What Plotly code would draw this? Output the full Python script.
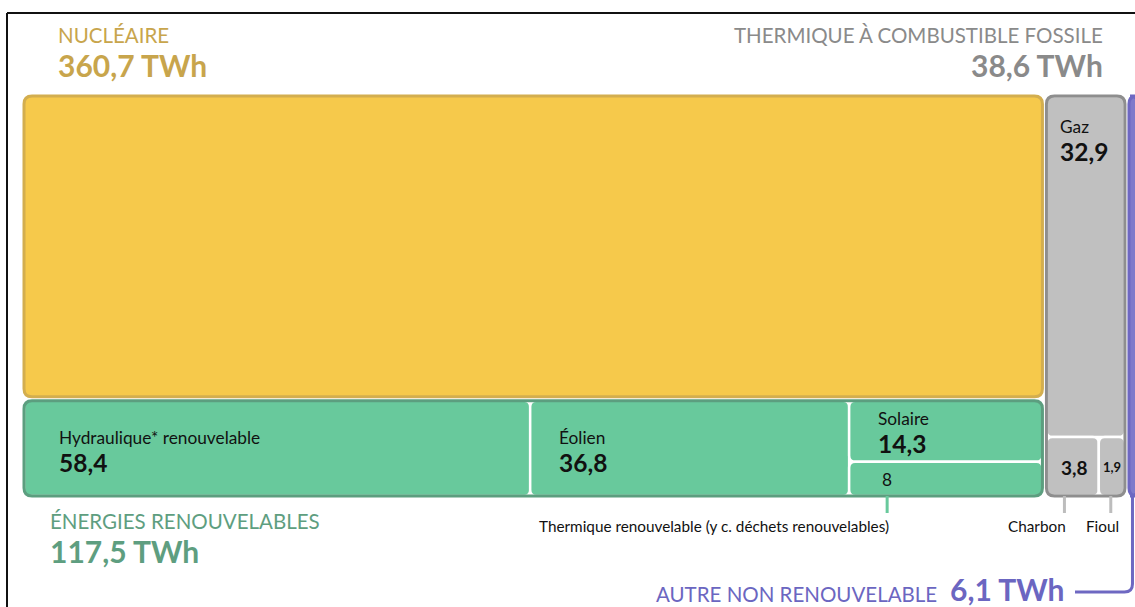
import plotly.graph_objects as go

# ---------------- data ----------------
group_names = ["NUCLÉAIRE", "ÉNERGIES RENOUVELABLES", "THERMIQUE À COMBUSTIBLE FOSSILE", "AUTRE NON RENOUVELABLE"]
group_totals = [360.7, 117.5, 38.6, 6.1]
renew_labels = ["Hydraulique* renouvelable", "Éolien", "Solaire", "Thermique renouvelable (y c. déchets renouvelables)"]
renew_values = [58.4, 36.8, 14.3, 8]
fossil_labels = ["Gaz", "Charbon", "Fioul"]
fossil_values = [32.9, 3.8, 1.9]
unit = "TWh"

# ---------------- style ----------------
FONT = "Lato"
fills = ["#F6C94B", "#68C99C", "#C0C0C0", "#7F7ACB"]
borders = ["#D3AE4F", "#5C9E7F", "#8E8E8E", "#6E68C2"]
label_cols = ["#C8A54C", "#5E9E80", "#8A8A8A", "#6B66C1"]

X0, Y0, W, H = 22, 94, 1118, 404   # treemap box in pixel-like axis units
INSET = 2.0
R_GROUP, R_LEAF = 8, 6

S_HEAD, S_HEADV = 20.5, 30
S_LEAF, S_LEAFV = 17.3, 24.5
S_SMALL = 15.3


def fmt(v):
    if float(v).is_integer():
        return str(int(v))
    return f"{v:.1f}".replace(".", ",")


def rrect(x0, y0, x1, y1, r):
    return (f"M {x0+r},{y0} L {x1-r},{y0} Q {x1},{y0} {x1},{y0+r} L {x1},{y1-r} "
            f"Q {x1},{y1} {x1-r},{y1} L {x0+r},{y1} Q {x0},{y1} {x0},{y1-r} "
            f"L {x0},{y0+r} Q {x0},{y0} {x0+r},{y0} Z")


# ---------------- treemap geometry from values ----------------
k = W * H / sum(group_totals)            # area units per TWh
v_nuc, v_ren, v_fos, v_oth = group_totals
w1 = (v_nuc + v_ren) * k / H
h_nuc = v_nuc * k / w1
w2 = v_fos * k / H
w3 = v_oth * k / H

g_rects = [
    (X0, Y0, X0 + w1, Y0 + h_nuc),
    (X0, Y0 + h_nuc, X0 + w1, Y0 + H),
    (X0 + w1, Y0, X0 + w1 + w2, Y0 + H),
    (X0 + w1 + w2, Y0, X0 + w1 + w2 + w3, Y0 + H),
]
g_in = [(a + INSET, b + INSET, c - INSET, d - INSET) for a, b, c, d in g_rects]

# renewables leaves
rx0, ry0, rx1, ry1 = g_in[1]
rk = (rx1 - rx0) * (ry1 - ry0) / sum(renew_values)
rh = ry1 - ry0
leaf_ren = []
x = rx0
for v in renew_values[:2]:
    w = v * rk / rh
    leaf_ren.append((x, ry0, x + w, ry1))
    x += w
col_w = rx1 - x
hs = renew_values[2] * rk / col_w
leaf_ren.append((x, ry0, rx1, ry0 + hs))
leaf_ren.append((x, ry0 + hs, rx1, ry1))

# fossil leaves
fx0, fy0, fx1, fy1 = g_in[2]
fk = (fx1 - fx0) * (fy1 - fy0) / sum(fossil_values)
fw = fx1 - fx0
hg = fossil_values[0] * fk / fw
leaf_fos = [(fx0, fy0, fx1, fy0 + hg)]
hb = fy1 - (fy0 + hg)
x = fx0
for v in fossil_values[1:]:
    w = v * fk / hb
    leaf_fos.append((x, fy0 + hg, x + w, fy1))
    x += w

shapes = []
annots = []

# frame lines (decoration)
shapes.append(dict(type="line", xref="x", yref="y", x0=7, x1=1135, y0=13, y1=13,
                   line=dict(color="#111111", width=2)))
shapes.append(dict(type="line", xref="x", yref="y", x0=7, x1=7, y0=13, y1=607,
                   line=dict(color="#111111", width=2)))

# nuclear and other: single blocks
for gi in (0, 3):
    a, b, c, d = g_in[gi]
    shapes.append(dict(type="path", path=rrect(a, b, c, d, R_GROUP), fillcolor=fills[gi],
                       line=dict(color=borders[gi], width=3), xref="x", yref="y"))

# leaves
for rect in leaf_ren:
    shapes.append(dict(type="path", path=rrect(*rect, R_LEAF), fillcolor=fills[1],
                       line=dict(color="white", width=2.5), xref="x", yref="y"))
for rect in leaf_fos:
    shapes.append(dict(type="path", path=rrect(*rect, R_LEAF), fillcolor=fills[2],
                       line=dict(color="white", width=2.5), xref="x", yref="y"))
# group outlines
for gi in (1, 2):
    a, b, c, d = g_in[gi]
    shapes.append(dict(type="path", path=rrect(a, b, c, d, R_GROUP), fillcolor="rgba(0,0,0,0)",
                       line=dict(color=borders[gi], width=3), xref="x", yref="y"))


def add_text(x, y, text, size, color, bold=False, xanchor="left"):
    if bold:
        text = f"<b>{text}</b>"
    annots.append(dict(x=x, y=y, xref="x", yref="y", text=text, showarrow=False,
                       xanchor=xanchor, yanchor="middle", borderpad=0,
                       font=dict(family=FONT, size=size, color=color)))


def add_pair(x, y_label, y_value, label, value, size, vsize, color, xanchor="left"):
    add_text(x, y_label, label, size, color, xanchor=xanchor)
    add_text(x, y_value, value, vsize, color, bold=True, xanchor=xanchor)


# group headings
add_pair(g_rects[0][0] + 35, 35, 65, group_names[0], f"{fmt(group_totals[0])} {unit}", S_HEAD, S_HEADV, label_cols[0])
add_pair(1104, 35, 65, group_names[2], f"{fmt(group_totals[2])} {unit}", S_HEAD, S_HEADV, label_cols[2], xanchor="right")
add_pair(g_rects[1][0] + 27, 521, 551, group_names[1], f"{fmt(group_totals[1])} {unit}", S_HEAD, S_HEADV, label_cols[1])
add_text(938, 594, group_names[3], S_HEAD, label_cols[3], xanchor="right")
add_text(949, 589, f"{fmt(group_totals[3])} {unit}", S_HEADV, label_cols[3], bold=True)

# renewable leaf labels (offsets are style)
ren_offsets = [(34, 37), (28, 37), (28, 18)]
for i in range(3):
    lx0, ly0 = leaf_ren[i][0], leaf_ren[i][1]
    dx, dy = ren_offsets[i]
    add_pair(lx0 + dx, ly0 + dy, ly0 + dy + 25, renew_labels[i], fmt(renew_values[i]), S_LEAF, S_LEAFV, "#111111")
# thermique renouvelable
tl = leaf_ren[3]
tx = tl[0] + 38
add_text(tx, (tl[1] + tl[3]) / 2 + 1, fmt(renew_values[3]), S_LEAF, "#111111", xanchor="center")
shapes.append(dict(type="line", xref="x", yref="y", x0=tx, x1=tx, y0=tl[3], y1=tl[3] + 17,
                   line=dict(color=fills[1], width=3)))
add_text(714, 526, renew_labels[3], S_SMALL, "#111111", xanchor="center")

# fossil labels
gz = leaf_fos[0]
add_pair(gz[0] + 13, gz[1] + 30, gz[1] + 55, fossil_labels[0], fmt(fossil_values[0]), S_LEAF, S_LEAFV, "#111111")
ch, fi = leaf_fos[1], leaf_fos[2]
add_text((ch[0] + ch[2]) / 2 + 2, (ch[1] + ch[3]) / 2 + 1, fmt(fossil_values[1]), 19, "#111111", bold=True, xanchor="center")
add_text((fi[0] + fi[2]) / 2, (fi[1] + fi[3]) / 2 + 1, fmt(fossil_values[2]), 13, "#111111", bold=True, xanchor="center")
for rect, lab, lx, txx in ((ch, fossil_labels[1], ch[0] + 18, 1037), (fi, fossil_labels[2], fi[0] + 12, 1102)):
    shapes.append(dict(type="line", xref="x", yref="y", x0=lx, x1=lx, y0=rect[3], y1=rect[3] + 17,
                       line=dict(color="#BDBDBD", width=3)))
    add_text(txx, 526, lab, S_SMALL, "#111111", xanchor="center")

# connector for "autre"
ox = (g_in[3][0] + g_in[3][2]) / 2 - 1
shapes.append(dict(type="path", xref="x", yref="y",
                   path=f"M {ox},{g_in[3][3]} L {ox},{584} Q {ox},{592} {ox-8},{592} L 1075,592",
                   line=dict(color=borders[3], width=3)))

fig = go.Figure()
fig.add_trace(go.Scatter(x=[0], y=[0], mode="markers", marker=dict(opacity=0), hoverinfo="skip", showlegend=False))
fig.update_layout(
    width=1135, height=607,
    margin=dict(l=0, r=0, t=0, b=0),
    paper_bgcolor="white", plot_bgcolor="white",
    xaxis=dict(range=[0, 1135], visible=False, fixedrange=True),
    yaxis=dict(range=[607, 0], visible=False, fixedrange=True),
    shapes=shapes, annotations=annots, showlegend=False,
)
fig.write_html("out.html", config={"displayModeBar": False},
               post_script="document.body.style.margin='0';document.body.style.overflow='hidden';")
